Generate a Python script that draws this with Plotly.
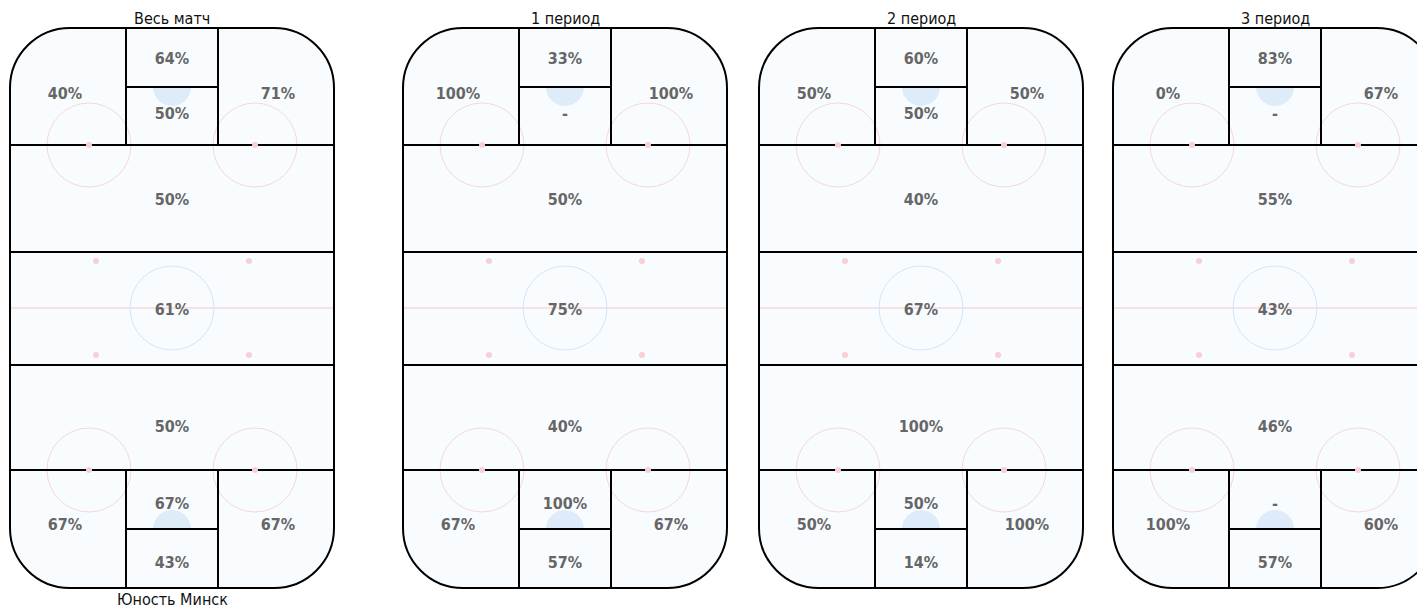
import plotly.graph_objects as go

# ---- data ----
panel_titles = ["Весь матч", "1 период", "2 период", "3 период"]
team_name = "Юность Минск"
zone_names = ["TL", "TCU", "TCL", "TR", "Z1", "N", "Z2", "BL", "BCU", "BCL", "BR"]
values_match = ["40%", "64%", "50%", "71%", "50%", "61%", "50%", "67%", "67%", "43%", "67%"]
values_p1 = ["100%", "33%", "-", "100%", "50%", "75%", "40%", "67%", "100%", "57%", "67%"]
values_p2 = ["50%", "60%", "50%", "50%", "40%", "67%", "100%", "50%", "50%", "14%", "100%"]
values_p3 = ["0%", "83%", "-", "67%", "55%", "43%", "46%", "100%", "-", "57%", "60%"]
panel_values = [values_match, values_p1, values_p2, values_p3]

# ---- layout geometry (pixels) ----
W_PX, H_PX = 1425, 609
OFF = 8  # page body margin
panel_left = [10, 403, 759, 1113]
RW = 324          # rink width
T, B = 28, 588    # rink top / bottom
R = 60            # corner radius
K = 0.5523 * R
zone_y = [145, 252, 365, 470]
crease_x = [116, 208]
crease_mid_top, crease_mid_bot = 87, 529
center_y = 308
text_pos = {
    "TL": (55, 95), "TCU": (162, 60), "TCL": (162, 115), "TR": (268, 95),
    "Z1": (162, 201), "N": (162, 311), "Z2": (162, 428),
    "BL": (55, 526), "BCU": (162, 505), "BCL": (162, 564), "BR": (268, 526),
}

FONT = "DejaVu Sans Condensed, DejaVu Sans, sans-serif"
BLACK = "#000000"
PINK_LINE = "#f7d6da"
PINK_DOT = "#f8cfd5"
BLUE_LINE = "#d4e5f8"
BLUE_FILL = "#deebf8"
ICE = "#f8fcff"

shapes = []


def rink_path(L):
    x0, x1 = L, L + RW
    return (f"M {x0+R},{T} L {x1-R},{T} C {x1-R+K},{T} {x1},{T+R-K} {x1},{T+R} "
            f"L {x1},{B-R} C {x1},{B-R+K} {x1-R+K},{B} {x1-R},{B} "
            f"L {x0+R},{B} C {x0+R-K},{B} {x0},{B-R+K} {x0},{B-R} "
            f"L {x0},{T+R} C {x0},{T+R-K} {x0+R-K},{T} {x0+R},{T} Z")


def semi(cx, cy, r, up):
    s = -1 if up else 1
    k = 0.5523 * r
    return (f"M {cx-r},{cy} C {cx-r},{cy+s*k} {cx-k},{cy+s*r} {cx},{cy+s*r} "
            f"C {cx+k},{cy+s*r} {cx+r},{cy+s*k} {cx+r},{cy} Z")


def circ(cx, cy, r, line=None, fill=None, width=1):
    d = dict(type="circle", xref="x", yref="y", x0=cx-r, x1=cx+r, y0=cy-r, y1=cy+r,
             layer="below")
    d["line"] = dict(color=line if line else "rgba(0,0,0,0)", width=width if line else 0)
    if fill:
        d["fillcolor"] = fill
    return d


def line(x0, y0, x1, y1, color=BLACK, width=2):
    return dict(type="line", xref="x", yref="y", x0=x0, y0=y0, x1=x1, y1=y1,
                line=dict(color=color, width=width), layer="below")


for L in panel_left:
    shapes.append(dict(type="path", path=rink_path(L), xref="x", yref="y",
                       fillcolor=ICE, line=dict(width=0), layer="below"))
    # center red line
    shapes.append(line(L, center_y, L + RW, center_y, "#f8c4cb", 1))
    # crease semicircles
    shapes.append(dict(type="path", path=semi(L + 162, crease_mid_top, 19, False), xref="x", yref="y",
                       fillcolor=BLUE_FILL, line=dict(width=0), layer="below"))
    shapes.append(dict(type="path", path=semi(L + 162, crease_mid_bot, 19, True), xref="x", yref="y",
                       fillcolor=BLUE_FILL, line=dict(width=0), layer="below"))
    # faceoff circles
    for cx in (79, 245):
        for cy in (zone_y[0], zone_y[3]):
            shapes.append(circ(L + cx, cy, 42, line=PINK_LINE))
    # center circle
    shapes.append(circ(L + 162, center_y, 42, line=BLUE_LINE))
    # zone lines
    for y in zone_y:
        shapes.append(line(L, y, L + RW, y))
    # crease boxes
    for cx in crease_x:
        shapes.append(line(L + cx, T, L + cx, zone_y[0]))
        shapes.append(line(L + cx, zone_y[3], L + cx, B))
    shapes.append(line(L + crease_x[0], crease_mid_top, L + crease_x[1], crease_mid_top))
    shapes.append(line(L + crease_x[0], crease_mid_bot, L + crease_x[1], crease_mid_bot))
    # dots
    for cx in (79, 245):
        for cy in (zone_y[0], zone_y[3]):
            shapes.append(circ(L + cx, cy, 3, fill=PINK_DOT))
    for cx in (86, 239):
        for cy in (261, 355):
            shapes.append(circ(L + cx, cy, 3, fill=PINK_DOT))
    # outline
    shapes.append(dict(type="path", path=rink_path(L), xref="x", yref="y",
                       line=dict(color=BLACK, width=2), layer="below"))

fig = go.Figure()
for L, vals in zip(panel_left, panel_values):
    xs = [L + text_pos[z][0] for z in zone_names]
    ys = [text_pos[z][1] for z in zone_names]
    fig.add_trace(go.Scatter(
        x=xs, y=ys, text=vals, mode="text", hoverinfo="skip", showlegend=False,
        textfont=dict(family=FONT, size=16, color="#666666", weight="bold"),
    ))

annotations = []
for L, t in zip(panel_left, panel_titles):
    annotations.append(dict(x=L + 162, y=18, xref="x", yref="y", text=t, showarrow=False,
                            font=dict(family=FONT, size=16, color="#111111")))
annotations.append(dict(x=panel_left[0] + 162, y=599, xref="x", yref="y", text=team_name,
                        showarrow=False, font=dict(family=FONT, size=16, color="#111111")))

fig.update_layout(
    width=W_PX - OFF, height=H_PX - OFF, margin=dict(l=0, r=0, t=0, b=0),
    paper_bgcolor="white", plot_bgcolor="white",
    shapes=shapes, annotations=annotations,
    xaxis=dict(range=[OFF, W_PX], visible=False, fixedrange=True),
    yaxis=dict(range=[H_PX, OFF], visible=False, fixedrange=True),
)

fig.write_html("out.html")
